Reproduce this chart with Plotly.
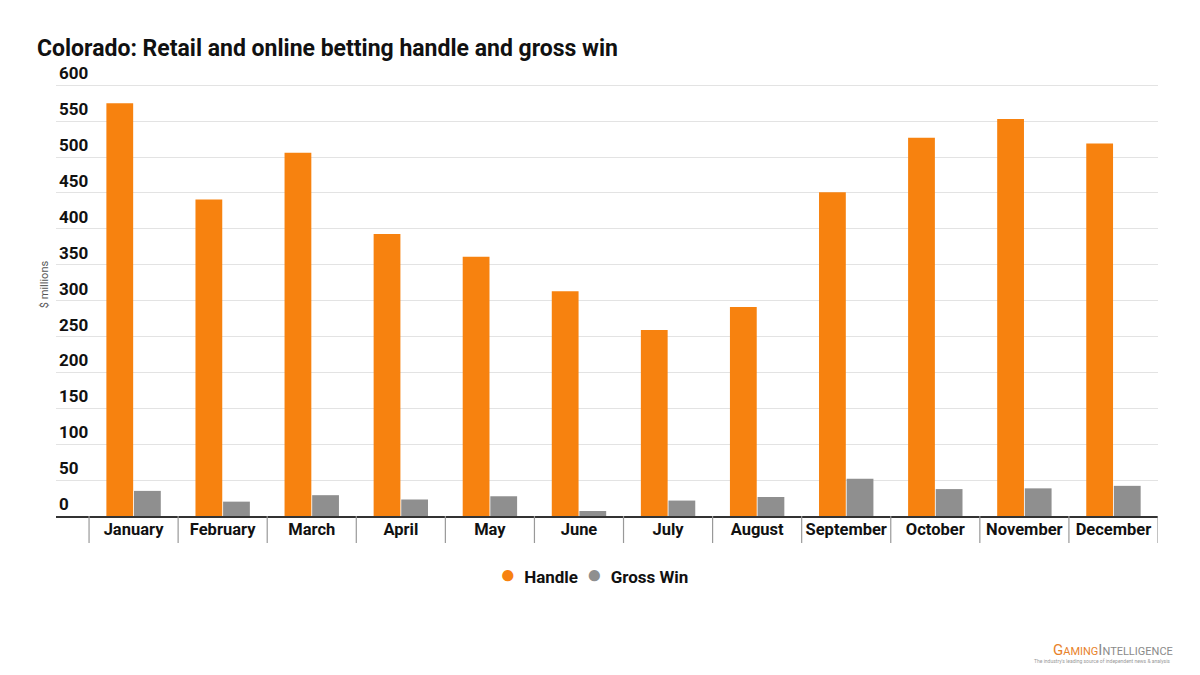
import plotly.graph_objects as go

months = ["January", "February", "March", "April", "May", "June",
          "July", "August", "September", "October", "November", "December"]
handle = [575, 441, 506, 393, 361, 313, 259, 291, 451, 527, 553, 519]
gross_win = [35, 20, 29, 23, 27.5, 7, 21.5, 26.5, 52, 37.5, 38.5, 42]
y_ticks = [0, 50, 100, 150, 200, 250, 300, 350, 400, 450, 500, 550, 600]

ORANGE = "#F7820F"
GRAY = "#8F8F8F"
FONT = "Roboto"

fig = go.Figure()
fig.add_trace(go.Bar(x=months, y=handle, name="Handle", marker_color=ORANGE,
                     marker_line_width=0, showlegend=False))
fig.add_trace(go.Bar(x=months, y=gross_win, name="Gross Win", marker_color=GRAY,
                     marker_line_width=0, showlegend=False))

# plot area in pixels: x 56..1158, baseline at 516, 600 gridline at 85
Y_MAX = 645
PX_L, PX_R, PX_B = 56, 1158, 516
PX_T = round(PX_B - Y_MAX * (516 - 85) / 600)
PW, PH = PX_R - PX_L, PX_B - PX_T


def px_x(px):
    return (px - PX_L) / PW


def px_y(py):
    return (PX_B - py) / PH


# category dividers below the baseline
shapes = []
for i in range(len(months) + 1):
    shapes.append(dict(type="line", xref="x", yref="paper",
                       x0=i - 0.5, x1=i - 0.5, y0=0, y1=px_y(543),
                       line=dict(color="#999999", width=1.2)))

legend_text = (f"<span style='color:{ORANGE};font-size:26px'>●</span>&nbsp; <b>Handle</b>&nbsp; "
               f"<span style='color:{GRAY};font-size:26px'>●</span>&nbsp; <b>Gross Win</b>")

fig.update_layout(
    width=1200, height=675,
    paper_bgcolor="white", plot_bgcolor="white",
    margin=dict(l=PX_L, r=1200 - PX_R, t=PX_T, b=675 - PX_B),
    barmode="group", bargap=0.38, bargroupgap=0.03,
    showlegend=False,
    font=dict(family=FONT, color="#111111"),
    title=dict(text="<b>Colorado: Retail and online betting handle and gross win</b>",
               x=37 / 1200, xanchor="left", y=1 - 48 / 675, yanchor="middle",
               font=dict(family=FONT, size=23, color="#111111")),
    xaxis=dict(type="category", range=[-0.871, 11.5],
               showgrid=False, showline=True, linecolor="#333333", linewidth=1.5,
               ticks="", tickfont=dict(family=FONT, size=16.5, color="#111111"),
               tickprefix="<b>", ticksuffix="</b>", fixedrange=True,
               ticklabelstandoff=-3),
    yaxis=dict(range=[0, Y_MAX], tickvals=y_ticks, ticktext=[f"<b>{v}</b>" for v in y_ticks],
               ticklabelposition="inside top", showgrid=True, gridcolor="#E3E3E3",
               gridwidth=1, zeroline=False, showline=False,
               tickfont=dict(family=FONT, size=17, color="#111111"),
               title=dict(text="$ millions", font=dict(family=FONT, size=11, color="#555555"),
                          standoff=8)),
    shapes=shapes,
    annotations=[
        dict(text=legend_text, xref="paper", yref="paper",
             x=px_x(594), y=px_y(574), xanchor="center", yanchor="middle",
             showarrow=False, font=dict(family=FONT, size=17, color="#111111")),
        dict(text="<span style='color:#E8822A'><span style='font-size:15px'>G</span>AMING</span>"
                  "<span style='color:#8A8A8A'><span style='font-size:15px'>I</span>NTELLIGENCE</span>",
             xref="paper", yref="paper", x=px_x(1175), y=px_y(650),
             xanchor="right", yanchor="middle", showarrow=False,
             font=dict(family=FONT, size=11)),
        dict(text="The industry's leading source of independent news &amp; analysis",
             xref="paper", yref="paper", x=px_x(1172), y=px_y(661),
             xanchor="right", yanchor="middle", showarrow=False,
             font=dict(family=FONT, size=5, color="#999999")),
    ],
)

fig.write_html("out.html", config={"displayModeBar": False},
               post_script="document.body.style.margin='0';")
